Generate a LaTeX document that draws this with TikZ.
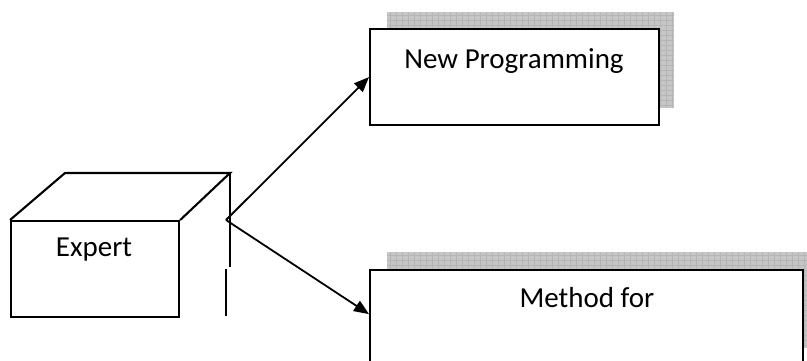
\documentclass[tikz,border=0pt]{standalone}
\usepackage{fontspec}
\setmainfont{Carlito}
\usetikzlibrary{arrows.meta}
\begin{document}
\begin{tikzpicture}[x=1pt,y=-1pt,
  edge/.style={line width=2.1pt,line join=miter},
  box/.style={draw,line width=2.2pt,fill=white,rectangle,inner sep=0pt,anchor=north west},
  shade/.style={fill=gray!45,draw=none},
  texture/.style={draw=gray!58,line width=0.5pt},
  lbl/.style={font=\fontsize{29}{34}\selectfont,inner sep=0pt},
  arrow/.style={line width=1.8pt,-{Triangle[length=15pt,width=12pt]}}]
\useasboundingbox (0,0) rectangle (807,360);
\clip (0,0) rectangle (807,360);

% shaded backing of the two boxes
\fill[shade] (387,12) rectangle (674,108);
\fill[shade] (387,252) rectangle (822,348);
\begin{scope}
  \clip (387,12) rectangle (674,108) (387,252) rectangle (822,348);
  \foreach \gx in {390,396,...,822} \draw[texture] (\gx,0) -- (\gx,360);
  \foreach \gy in {15,20,...,350} \draw[texture] (380,\gy) -- (822,\gy);
\end{scope}

% boxes
\node[box,minimum width=289pt,minimum height=96pt] (np) at (369,28) {};
\node[box,minimum width=433pt,minimum height=100pt] (mf) at (369,269) {};
\node[lbl] (nplbl) at (514,61) {New Programming};
\node[lbl] (mflbl) at (587,298) {Method for};

% the Expert cube
\node[draw,line width=2.2pt,rectangle,inner sep=0pt,anchor=north west,
      minimum width=168pt,minimum height=96pt] (expert) at (10,220) {};
\node[lbl] (explbl) at (94,250) {Expert};
\coordinate (tl) at (65,173);
\coordinate (tr) at (230,173);
\coordinate (rb) at (230,267);
\coordinate (lt) at (226,269);
\coordinate (lb) at (226,316);
\draw[edge] (expert.north west) -- (tl) -- (tr) -- (expert.north east);
\draw[edge] (tr) -- (rb);
\draw[edge] (lt) -- (lb);

% connectors
\coordinate (src) at (226,220);
\draw[arrow] (src) -- (np.west);
\draw[arrow] (src) -- ([yshift=6pt]mf.west);
\end{tikzpicture}
\end{document}
